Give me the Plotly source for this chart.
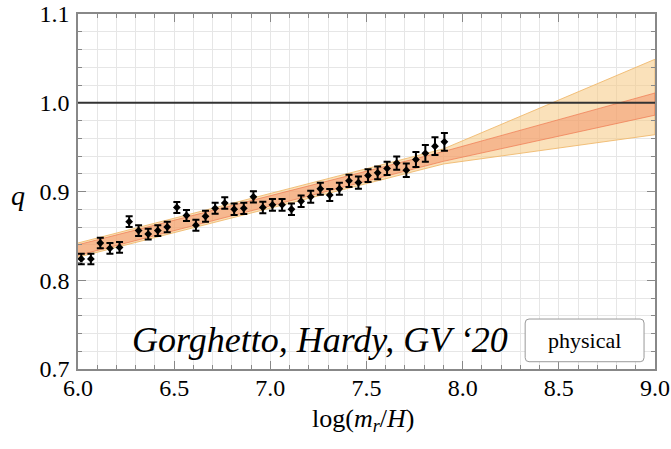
import plotly.graph_objects as go

# ---- data ----
log_mr_H = [6.017, 6.067, 6.116, 6.166, 6.216, 6.266, 6.315, 6.365, 6.415, 6.464,
            6.514, 6.564, 6.613, 6.663, 6.713, 6.763, 6.812, 6.862, 6.912, 6.961,
            7.011, 7.061, 7.110, 7.160, 7.210, 7.260, 7.309, 7.359, 7.409, 7.458,
            7.508, 7.558, 7.607, 7.657, 7.707, 7.757, 7.806, 7.856, 7.905]
q_vals = [0.824, 0.824, 0.842, 0.836, 0.837, 0.866, 0.856, 0.852, 0.856, 0.860,
          0.882, 0.873, 0.862, 0.872, 0.881, 0.887, 0.880, 0.881, 0.894, 0.882,
          0.885, 0.885, 0.880, 0.889, 0.894, 0.903, 0.896, 0.903, 0.912, 0.910,
          0.918, 0.921, 0.926, 0.932, 0.924, 0.936, 0.943, 0.951, 0.956]
q_err = [0.0060, 0.0060, 0.0060, 0.0060, 0.0060, 0.0060, 0.0060, 0.0060, 0.0060, 0.0060,
         0.0062, 0.0062, 0.0062, 0.0062, 0.0062, 0.0064, 0.0064, 0.0064, 0.0064, 0.0064,
         0.0066, 0.0066, 0.0066, 0.0066, 0.0068, 0.0068, 0.0068, 0.0068, 0.0070, 0.0070,
         0.0072, 0.0072, 0.0074, 0.0075, 0.0076, 0.0085, 0.0095, 0.0100, 0.0100]

band_x = [6.0, 7.9, 9.0]
outer_up = [0.842, 0.948, 1.049]
outer_lo = [0.826, 0.931, 0.964]
inner_up = [0.840, 0.945, 1.011]
inner_lo = [0.828, 0.934, 0.986]

ref_line_q = 1.0
x_ticks = [6.0, 6.5, 7.0, 7.5, 8.0, 8.5, 9.0]
y_ticks = [0.7, 0.8, 0.9, 1.0, 1.1]

SERIF = "Liberation Serif, Times New Roman, serif"

fig = go.Figure()

# outer band
fig.add_trace(go.Scatter(
    x=band_x + band_x[::-1], y=outer_up + outer_lo[::-1],
    fill="toself", mode="lines",
    fillcolor="rgba(246,200,130,0.55)",
    line=dict(color="rgba(240,185,110,0.9)", width=1),
    hoverinfo="skip", showlegend=False))
# inner band
fig.add_trace(go.Scatter(
    x=band_x + band_x[::-1], y=inner_up + inner_lo[::-1],
    fill="toself", mode="lines",
    fillcolor="rgba(242,135,90,0.45)",
    line=dict(color="rgba(240,120,80,0.7)", width=1),
    hoverinfo="skip", showlegend=False))

# data points
fig.add_trace(go.Scatter(
    x=log_mr_H, y=q_vals, mode="markers",
    marker=dict(symbol="diamond", size=6, color="black"),
    error_y=dict(type="data", array=q_err, color="black", thickness=2, width=3.5),
    showlegend=False))

fig.add_hline(y=ref_line_q, line=dict(color="#333333", width=2))

axis_common = dict(
    showline=True, linecolor="#888888", linewidth=1.5, mirror="allticks",
    ticks="inside", ticklen=8, tickcolor="#888888", tickwidth=1,
    showgrid=True, gridcolor="#e6e6e6", gridwidth=1, zeroline=False,
    tickfont=dict(family=SERIF, size=24, color="black"),
    ticklabeloverflow="allow", automargin=False,
)

fig.update_xaxes(
    range=[6.0, 9.0], tickvals=x_ticks, ticktext=[f"{v:.1f}" for v in x_ticks],
    minor=dict(dtick=0.1, tick0=6.0, ticks="inside", ticklen=4, tickcolor="#888888",
               showgrid=True, gridcolor="#e6e6e6"),
    ticklabelstandoff=-4,
    **axis_common)
fig.update_yaxes(
    range=[0.7, 1.1], tickvals=y_ticks, ticktext=[f"{v:.1f}" for v in y_ticks],
    minor=dict(dtick=0.02, tick0=0.7, ticks="inside", ticklen=4, tickcolor="#888888",
               showgrid=True, gridcolor="#e6e6e6"),
    ticklabelstandoff=2,
    **axis_common)

# rounded legend-like box
rx, ry = 0.02, 0.0045
x0, x1, y0, y1 = 8.325, 8.943, 0.7082, 0.7563
path = (f"M {x0+rx},{y0} L {x1-rx},{y0} Q {x1},{y0} {x1},{y0+ry} "
        f"L {x1},{y1-ry} Q {x1},{y1} {x1-rx},{y1} L {x0+rx},{y1} "
        f"Q {x0},{y1} {x0},{y1-ry} L {x0},{y0+ry} Q {x0},{y0} {x0+rx},{y0} Z")
fig.add_shape(type="path", path=path, xref="x", yref="y",
              line=dict(color="#999999", width=1), fillcolor="white")

fig.update_layout(
    width=671, height=449,
    margin=dict(l=78, r=16, t=14, b=80),
    paper_bgcolor="white", plot_bgcolor="white",
    annotations=[
        dict(x=7.258, y=0.7327, xref="x", yref="y", showarrow=False,
             xanchor="center", yanchor="middle",
             text="<i>Gorghetto, Hardy, GV ‘20</i>",
             font=dict(family=SERIF, size=36, color="black",
                       shadow="0px 0px 3px white")),
        dict(x=(x0 + x1) / 2, y=(y0 + y1) / 2, xref="x", yref="y", showarrow=False,
             xanchor="center", yanchor="middle",
             text="physical", font=dict(family=SERIF, size=22, color="black")),
        dict(x=-0.104, y=0.49, xref="paper", yref="paper", showarrow=False,
             xanchor="center", yanchor="middle",
             text="<i>q</i>", font=dict(family=SERIF, size=28, color="black")),
        dict(x=0.494, y=-0.145, xref="paper", yref="paper", showarrow=False,
             xanchor="center", yanchor="middle",
             text="log(<i>m<sub>r</sub></i>/<i>H</i>)",
             font=dict(family=SERIF, size=26, color="black")),
    ],
)

fig.write_html("out.html")
